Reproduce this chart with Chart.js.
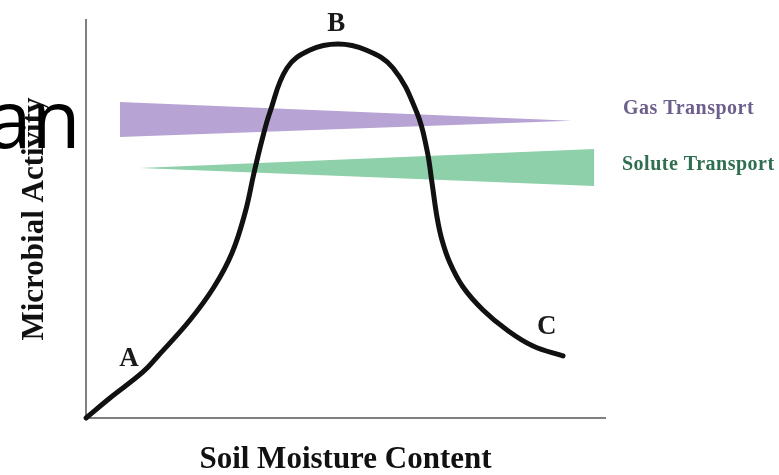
<!DOCTYPE html>
<html>
<head>
<meta charset="utf-8">
<script src="https://cdn.jsdelivr.net/npm/chart.js@4/dist/chart.umd.min.js"></script>
<style>
  html, body { margin: 0; padding: 0; background: #ffffff; }
  #wrap { width: 779px; height: 475px; position: relative; }
</style>
</head>
<body>
<div id="wrap"><canvas id="c" width="779" height="475"></canvas></div>
<script>
// ---- data (x: soil moisture 0-100, y: microbial activity 0-100) ----
const moisture = [0, 4.62, 10.98, 13.87, 20.04, 24.66, 28.13, 30.64, 32.37, 33.91, 35.45, 38.73, 43.16, 48.55, 53.95, 59.15, 63.78, 65.70, 66.67, 67.63, 68.59, 70.13, 72.64, 76.49, 81.12, 86.13, 91.91];
const activity = [0, 5.03, 11.56, 15.58, 24.62, 32.91, 41.46, 51.51, 61.56, 69.85, 76.88, 87.94, 92.46, 93.97, 92.46, 87.94, 76.63, 67.34, 59.05, 50.50, 44.72, 38.94, 32.91, 27.14, 22.11, 18.09, 15.58];

// wedge outlines (gas transport narrows with moisture, solute transport widens)
const gasX = [6.55, 93.6, 6.55];
const gasY = [79.4, 74.7, 70.6];
const soluteX = [10.4, 97.9, 97.9];
const soluteY = [62.8, 67.6, 58.3];

// point labels
const pointLabels = ['A', 'B', 'C'];
const pointLabelX = [8.3, 48.2, 88.8];
const pointLabelY = [14.8, 99.0, 22.9];

const seriesNames = ['Gas Transport', 'Solute Transport'];
const xTitle = 'Soil Moisture Content';
const yTitle = 'Microbial Activity';

const toPts = (xs, ys) => xs.map((x, i) => ({ x: x, y: ys[i] }));

const serif = "'Liberation Serif', 'Times New Roman', serif";

const annotate = {
  id: 'annotate',
  afterDraw(chart) {
    const ctx = chart.ctx;
    const xs = chart.scales.x, ys = chart.scales.y;
    ctx.save();
    // A, B, C
    ctx.fillStyle = '#1a1a1a';
    ctx.font = 'bold 27px ' + serif;
    ctx.textAlign = 'center';
    ctx.textBaseline = 'middle';
    pointLabels.forEach((t, i) => {
      ctx.fillText(t, xs.getPixelForValue(pointLabelX[i]), ys.getPixelForValue(pointLabelY[i]));
    });
    // series labels
    ctx.textAlign = 'left';
    ctx.textBaseline = 'alphabetic';
    ctx.font = 'bold 20px ' + serif;
    try { ctx.letterSpacing = '0.5px'; } catch (e) {}
    ctx.fillStyle = '#6d5f8c';
    ctx.fillText(seriesNames[0], 623, 114);
    ctx.fillStyle = '#2f6e50';
    ctx.fillText(seriesNames[1], 622, 170);
    try { ctx.letterSpacing = '0px'; } catch (e) {}
    // stray overlay text
    ctx.fillStyle = '#000000';
    ctx.font = "80px 'Open Sans', 'Noto Sans', sans-serif";
    ctx.textAlign = 'right';
    ctx.fillText('an', 80.5, 148);
    ctx.restore();
  }
};

new Chart(document.getElementById('c'), {
  type: 'scatter',
  data: {
    datasets: [
      {
        label: 'Microbial Activity',
        data: toPts(moisture, activity),
        showLine: true,
        borderColor: '#111111',
        borderWidth: 5,
        borderCapStyle: 'round',
        borderJoinStyle: 'round',
        tension: 0.4,
        pointRadius: 0,
        fill: false,
        clip: 6
      },
      {
        label: seriesNames[0],
        data: toPts(gasX, gasY),
        showLine: true,
        borderWidth: 0,
        borderColor: 'rgba(0,0,0,0)',
        backgroundColor: '#b8a4d4',
        pointRadius: 0,
        tension: 0,
        fill: 'shape'
      },
      {
        label: seriesNames[1],
        data: toPts(soluteX, soluteY),
        showLine: true,
        borderWidth: 0,
        borderColor: 'rgba(0,0,0,0)',
        backgroundColor: '#8dd0aa',
        pointRadius: 0,
        tension: 0,
        fill: 'shape'
      }
    ]
  },
  options: {
    responsive: false,
    devicePixelRatio: 1,
    animation: false,
    layout: { padding: { left: 0, right: 174, top: 20, bottom: 0 } },
    plugins: { legend: { display: false }, tooltip: { enabled: false } },
    scales: {
      x: {
        type: 'linear', min: 0, max: 100,
        grid: { display: false, drawTicks: false },
        border: { display: true, color: '#808080', width: 2 },
        ticks: { display: false },
        title: {
          display: true, text: xTitle, color: '#111111',
          font: { family: serif, size: 31, weight: 'bold', lineHeight: 1 },
          padding: { top: 26, bottom: 0 }
        }
      },
      y: {
        type: 'linear', min: 0, max: 100,
        grid: { display: false, drawTicks: false },
        border: { display: true, color: '#808080', width: 2 },
        ticks: { display: false },
        title: {
          display: true, text: yTitle, color: '#111111',
          font: { family: serif, size: 31, weight: 'bold', lineHeight: 1 },
          padding: { top: 19, bottom: 36 }
        }
      }
    }
  },
  plugins: [annotate]
});
</script>
</body>
</html>
